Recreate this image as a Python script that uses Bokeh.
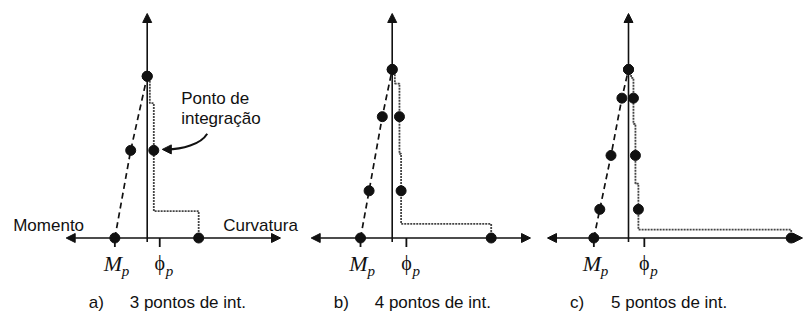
import numpy as np
from bokeh.plotting import figure
from bokeh.layouts import row
from bokeh.models import Range1d, Arrow, NormalHead
from bokeh.core.properties import value
from bokeh.embed import file_html
from bokeh.resources import INLINE

# Integration stations along the member (0 = base, last = free end)
station_3 = [0.0, 0.52, 0.96]
station_4 = [0.0, 0.28, 0.72, 1.0]
station_5 = [0.0, 0.17, 0.49, 0.83, 1.0]

# Gauss-Lobatto weights: share of the member length tributary to each station
weight_3 = [1 / 6, 2 / 3, 1 / 6]
weight_4 = [1 / 12, 5 / 12, 5 / 12, 1 / 12]
weight_5 = [1 / 20, 49 / 180, 64 / 180, 49 / 180, 1 / 20]

# Bending moment at each station (plotted to the left of the member axis)
moment_3 = [0.98, 0.50, 0.0]
moment_4 = [0.96, 0.70, 0.30, 0.0]
moment_5 = [1.05, 0.87, 0.53, 0.20, 0.0]

# Curvature at each station (plotted to the right of the member axis)
curvature_3 = [1.56, 0.20, 0.0]
curvature_4 = [3.00, 0.27, 0.22, 0.0]
curvature_5 = [4.93, 0.30, 0.21, 0.15, 0.0]

# Yield curvature marked on each curvature axis
phi_p = [0.38, 0.43, 0.48]

panel_tags = ["a)", "b)", "c)"]
panel_titles = ["3 pontos de int.", "4 pontos de int.", "5 pontos de int."]

# ---- layout (pixels) ----
HEIGHT = 320
PX_X = 33.0          # pixels per unit of moment / curvature
PX_Y = 168.5         # pixels per unit of member length
AXIS_ROW = 237.5     # distance of the horizontal axis from the top
PANEL_W = [305, 240, 258]
ORIGIN_X = [146.7, 86.7, 83.0]
LEFT_TIP = -81.0
RIGHT_TIP = [133.3, 138.3, 174.0]
TOP_TIP = 224.5

INK = "#111111"
SANS = value("Liberation Sans")
SERIF = value("Liberation Serif")


def ux(px):
    return px / PX_X


def uy(px):
    return px / PX_Y


def head():
    return NormalHead(size=9, fill_color=INK, line_color=INK, line_width=1)


def make_panel(k, station, weight, moment, curvature, show_extras=False):
    w = PANEL_W[k]
    ox = ORIGIN_X[k]
    p = figure(width=w, height=HEIGHT,
               x_range=Range1d(-ux(ox), ux(w - ox)),
               y_range=Range1d(-uy(HEIGHT - AXIS_ROW), uy(AXIS_ROW)),
               x_axis_type=None, y_axis_type=None,
               output_backend="svg", toolbar_location=None,
               min_border=0, outline_line_color=None,
               background_fill_color="white", border_fill_color="white")

    station = np.asarray(station)
    moment = np.asarray(moment)
    curvature = np.asarray(curvature)
    length = station[-1]

    # axes: moment / curvature (horizontal) and member axis (vertical)
    p.add_layout(Arrow(start=head(), end=head(),
                       x_start=ux(LEFT_TIP), y_start=0,
                       x_end=ux(RIGHT_TIP[k]), y_end=0,
                       line_width=1.6, line_color=INK))
    p.add_layout(Arrow(end=head(), x_start=0, y_start=-uy(4),
                       x_end=0, y_end=uy(TOP_TIP),
                       line_width=1.6, line_color=INK))

    # curvature distribution as a step over each tributary length
    bounds = length * np.concatenate([[0.0], np.cumsum(weight)])
    c_vis = np.maximum(curvature, 0.08)
    sx, sy = [], []
    for i in range(len(station)):
        sx += [c_vis[i], c_vis[i]]
        sy += [bounds[i], bounds[i + 1]]
    sx[0] = curvature[0]
    p.line(sx, sy, line_color="#444444", line_width=1.8, line_dash="2 1")

    # linear moment diagram
    p.line(-moment, station, line_color=INK, line_width=1.7, line_dash="6 4")

    # integration points
    p.scatter(-moment, station, size=10, fill_color=INK, line_color=INK)
    p.scatter(curvature, station, size=10, fill_color=INK, line_color=INK)

    # M_p and phi_p ticks
    mp = moment[0]
    ph = phi_p[k]
    p.segment(x0=[-mp, ph], y0=[0, 0], x1=[-mp, ph], y1=[-uy(9), -uy(9)],
              line_color=INK, line_width=1.8)
    p.text(x=[-mp - ux(2)], y=[-uy(25)], text=["M"], text_font=SERIF,
           text_font_style="italic", text_font_size="22px",
           text_align="center", text_baseline="middle", text_color=INK)
    p.text(x=[-mp + ux(7)], y=[-uy(33)], text=["p"], text_font=SERIF,
           text_font_style="italic", text_font_size="15px",
           text_align="left", text_baseline="middle", text_color=INK)
    p.text(x=[ph], y=[-uy(25)], text=["\u03d5"], text_font=SERIF,
           text_font_size="20px", text_align="center",
           text_baseline="middle", text_color=INK)
    p.text(x=[ph + ux(6)], y=[-uy(33)], text=["p"], text_font=SERIF,
           text_font_style="italic", text_font_size="15px",
           text_align="left", text_baseline="middle", text_color=INK)

    # caption
    p.text(x=[-ux(58.5)], y=[-uy(64.5)], text=[panel_tags[k]], text_font=SANS,
           text_font_size="17px", text_align="left", text_baseline="middle",
           text_color=INK)
    p.text(x=[-ux(17.5)], y=[-uy(64.5)], text=[panel_titles[k]], text_font=SANS,
           text_font_size="17px", text_align="left", text_baseline="middle",
           text_color=INK)

    if show_extras:
        p.text(x=[-ux(134)], y=[uy(12.5)], text=["Momento"], text_font=SANS,
               text_font_size="17px", text_align="left",
               text_baseline="middle", text_color=INK)
        p.text(x=[ux(76)], y=[uy(12.5)], text=["Curvatura"], text_font=SANS,
               text_font_size="17px", text_align="left",
               text_baseline="middle", text_color=INK)

        # callout pointing at an integration point
        dx0 = curvature[1]
        dy0 = station[1]
        p.text(x=[dx0 + ux(27.4)] * 2, y=[dy0 + uy(52), dy0 + uy(32)],
               text=["Ponto de", "integração"], text_font=SANS,
               text_font_size="17px", text_align="left",
               text_baseline="middle", text_color=INK)
        p.bezier(x0=[dx0 + ux(53.4)], y0=[dy0 + uy(16.7)],
                 cx0=[dx0 + ux(47)], cy0=[dy0 + uy(6)],
                 cx1=[dx0 + ux(28)], cy1=[dy0 + uy(1)],
                 x1=[dx0 + ux(13)], y1=[dy0 + uy(1)],
                 line_color=INK, line_width=2)
        p.add_layout(Arrow(end=NormalHead(size=9, fill_color=INK,
                                          line_color=INK, line_width=1),
                           x_start=dx0 + ux(15), y_start=dy0 + uy(1),
                           x_end=dx0 + ux(8.5), y_end=dy0 + uy(1),
                           line_width=2, line_color=INK))
    return p


pa = make_panel(0, station_3, weight_3, moment_3, curvature_3, show_extras=True)
pb = make_panel(1, station_4, weight_4, moment_4, curvature_4)
pc = make_panel(2, station_5, weight_5, moment_5, curvature_5)

layout = row(pa, pb, pc)
open("out.html", "w").write(file_html(layout, INLINE))
